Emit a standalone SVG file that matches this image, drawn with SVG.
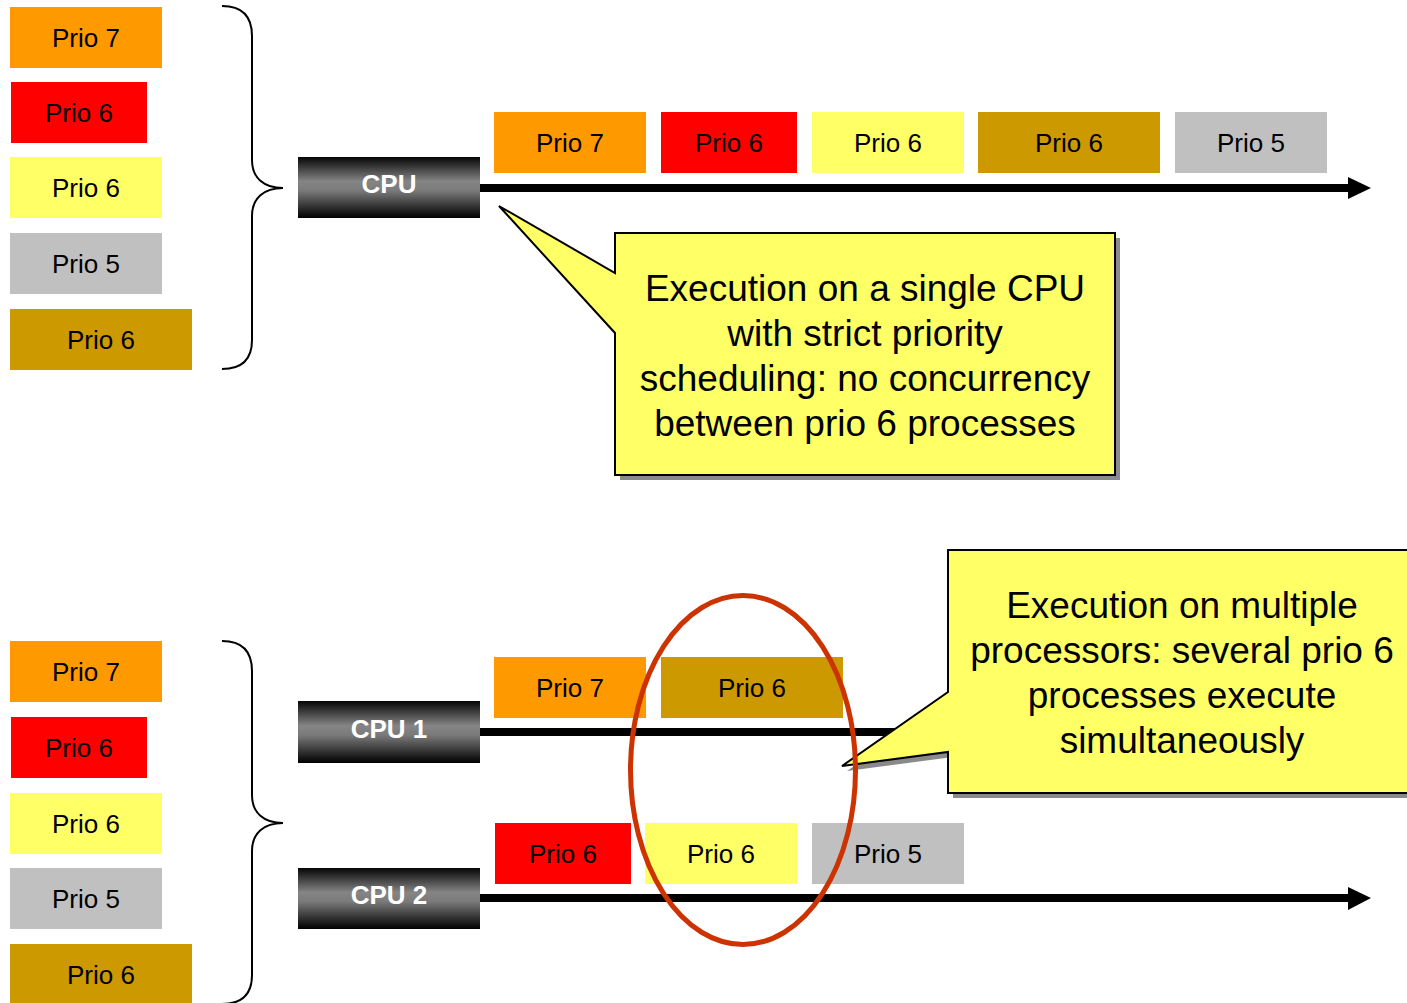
<svg xmlns="http://www.w3.org/2000/svg" width="1407" height="1003" viewBox="0 0 1407 1003">
<defs>
<linearGradient id="cpuGrad" x1="0" y1="0" x2="0" y2="1">
<stop offset="0" stop-color="#050505"/>
<stop offset="0.4" stop-color="#858585"/>
<stop offset="0.55" stop-color="#7a7a7a"/>
<stop offset="1" stop-color="#000000"/>
</linearGradient>
<style>
.p7{fill:#FF9900}
.p6r{fill:#FF0000}
.p6y{fill:#FFFF66}
.p6g{fill:#CC9900}
.p5{fill:#C0C0C0}
.lbl{font-family:"Liberation Sans",Arial,sans-serif;font-size:26px;fill:#000;text-anchor:middle}
.cpu{fill:url(#cpuGrad)}
.cpulbl{font-family:"Liberation Sans",Arial,sans-serif;font-size:26px;font-weight:bold;fill:#fff;text-anchor:middle}
.line{stroke:#000;stroke-width:8;fill:none}
.brace{stroke:#000;stroke-width:2;fill:none}
.callout{fill:#FFFF66;stroke:#000;stroke-width:2;stroke-linejoin:miter}
.shadow{fill:#8a8a8a}
.ctext{font-family:"Liberation Sans",Arial,sans-serif;font-size:37px;fill:#000;text-anchor:middle}
</style>
</defs>
<rect width="1407" height="1003" fill="#fff"/>

<g id="connectors">
<path class="brace" d="M222,6 C242,6 252,16 252,36 L252,160 C252,178 264,188 283,188 C264,188 252,198 252,216 L252,340 C252,359 242,369 222,369"/>
<path class="brace" d="M222,641 C242,641 252,651 252,671 L252,795 C252,813 264,823 283,823 C264,823 252,833 252,851 L252,975 C252,994 242,1004 222,1004"/>
<line class="line" x1="480" y1="188" x2="1352" y2="188"/>
<polygon points="1348,177 1371,188 1348,199" fill="#000"/>
<line class="line" x1="480" y1="732" x2="1000" y2="732"/>
<line class="line" x1="480" y1="898" x2="1352" y2="898"/>
<polygon points="1348,887 1371,898 1348,910" fill="#000"/>
</g>

<g id="queue1">
<g id="q1-p7"><rect class="p7" x="10" y="7" width="152" height="61"/><text class="lbl" x="86" y="47">Prio 7</text></g>
<g id="q1-p6r"><rect class="p6r" x="11" y="82" width="136" height="61"/><text class="lbl" x="79" y="122">Prio 6</text></g>
<g id="q1-p6y"><rect class="p6y" x="10" y="157" width="152" height="61"/><text class="lbl" x="86" y="197">Prio 6</text></g>
<g id="q1-p5"><rect class="p5" x="10" y="233" width="152" height="61"/><text class="lbl" x="86" y="273">Prio 5</text></g>
<g id="q1-p6g"><rect class="p6g" x="10" y="309" width="182" height="61"/><text class="lbl" x="101" y="349">Prio 6</text></g>
</g>

<g id="cpu"><rect class="cpu" x="298" y="157" width="182" height="61"/><text class="cpulbl" x="389" y="193">CPU</text></g>

<g id="timeline1">
<g id="t1-a"><rect class="p7" x="494" y="112" width="152" height="61"/><text class="lbl" x="570" y="152">Prio 7</text></g>
<g id="t1-b"><rect class="p6r" x="661" y="112" width="136" height="61"/><text class="lbl" x="729" y="152">Prio 6</text></g>
<g id="t1-c"><rect class="p6y" x="812" y="112" width="152" height="61"/><text class="lbl" x="888" y="152">Prio 6</text></g>
<g id="t1-d"><rect class="p6g" x="978" y="112" width="182" height="61"/><text class="lbl" x="1069" y="152">Prio 6</text></g>
<g id="t1-e"><rect class="p5" x="1175" y="112" width="152" height="61"/><text class="lbl" x="1251" y="152">Prio 5</text></g>
</g>

<g id="callout1">
<path class="shadow" d="M620,238 L1120,238 L1120,480 L620,480 L620,338 L504,211 L620,278 Z"/>
<path class="callout" d="M615,233 L1115,233 L1115,475 L615,475 L615,333 L499,206 L615,273 Z"/>
<text class="ctext" x="865" y="301">Execution on a single CPU</text>
<text class="ctext" x="865" y="346">with strict priority</text>
<text class="ctext" x="865" y="391">scheduling: no concurrency</text>
<text class="ctext" x="865" y="436">between prio 6 processes</text>
</g>

<g id="queue2">
<g id="q2-p7"><rect class="p7" x="10" y="641" width="152" height="61"/><text class="lbl" x="86" y="681">Prio 7</text></g>
<g id="q2-p6r"><rect class="p6r" x="11" y="717" width="136" height="61"/><text class="lbl" x="79" y="757">Prio 6</text></g>
<g id="q2-p6y"><rect class="p6y" x="10" y="793" width="152" height="61"/><text class="lbl" x="86" y="833">Prio 6</text></g>
<g id="q2-p5"><rect class="p5" x="10" y="868" width="152" height="61"/><text class="lbl" x="86" y="908">Prio 5</text></g>
<g id="q2-p6g"><rect class="p6g" x="10" y="944" width="182" height="61"/><text class="lbl" x="101" y="984">Prio 6</text></g>
</g>

<g id="cpu1"><rect class="cpu" x="298" y="701" width="182" height="62"/><text class="cpulbl" x="389" y="738">CPU 1</text></g>
<g id="cpu2"><rect class="cpu" x="298" y="868" width="182" height="61"/><text class="cpulbl" x="389" y="904">CPU 2</text></g>

<g id="timeline2">
<g id="t2-a"><rect class="p7" x="494" y="657" width="152" height="61"/><text class="lbl" x="570" y="697">Prio 7</text></g>
<g id="t2-b"><rect class="p6g" x="661" y="657" width="182" height="61"/><text class="lbl" x="752" y="697">Prio 6</text></g>
<g id="t2-c"><rect class="p6r" x="495" y="823" width="136" height="61"/><text class="lbl" x="563" y="863">Prio 6</text></g>
<g id="t2-d"><rect class="p6y" x="645" y="823" width="152" height="61"/><text class="lbl" x="721" y="863">Prio 6</text></g>
<g id="t2-e"><rect class="p5" x="812" y="823" width="152" height="61"/><text class="lbl" x="888" y="863">Prio 5</text></g>
</g>

<g id="callout2">
<path class="shadow" d="M953,555 L1420,555 L1420,798 L953,798 L953,757 L847,771 L953,697 Z"/>
<path class="callout" d="M948,550 L1415,550 L1415,793 L948,793 L948,752 L842,766 L948,692 Z"/>
<text class="ctext" x="1182" y="618">Execution on multiple</text>
<text class="ctext" x="1182" y="663">processors: several prio 6</text>
<text class="ctext" x="1182" y="708">processes execute</text>
<text class="ctext" x="1182" y="753">simultaneously</text>
</g>

<g id="highlight">
<ellipse cx="743" cy="770" rx="112.5" ry="174.5" fill="none" stroke="#CC3300" stroke-width="5"/>
</g>
</svg>
